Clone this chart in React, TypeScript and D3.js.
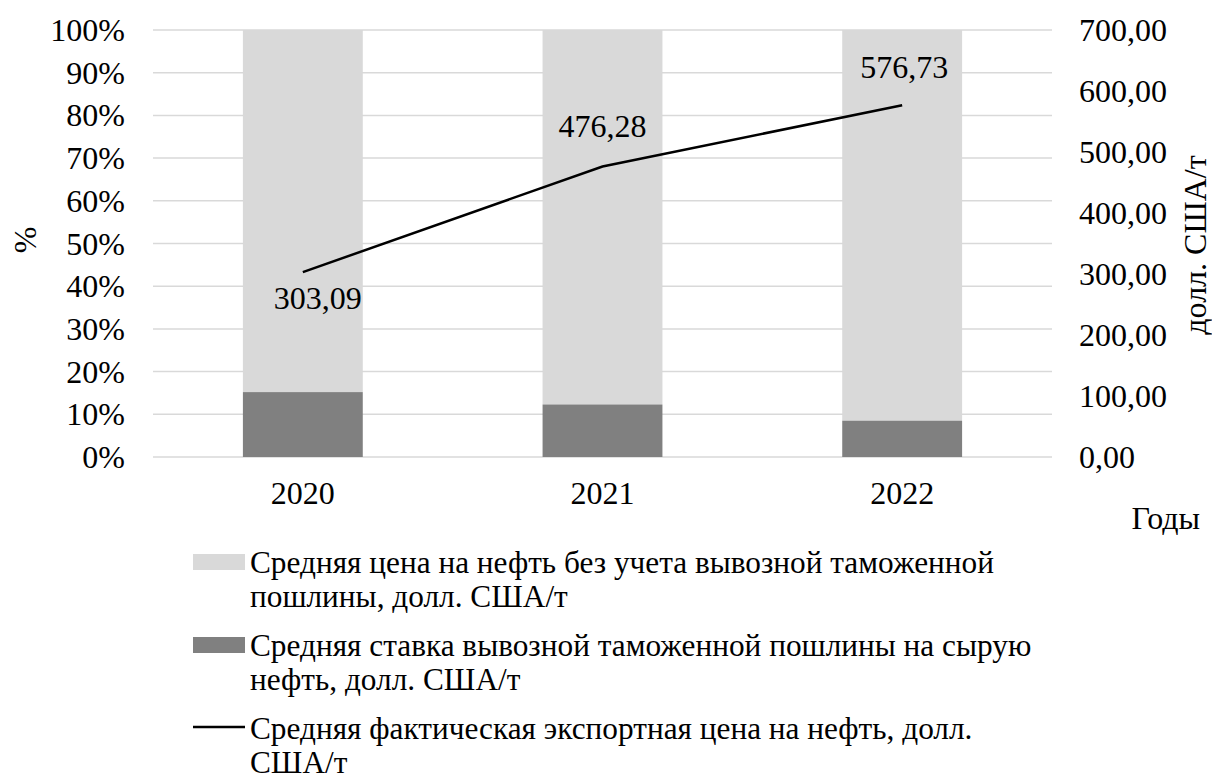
import React from "react";
import * as d3 from "d3";

const years = ["2020", "2021", "2022"];
// share of export duty in price, %
const dutyShare = [15.2, 12.3, 8.5];
// share of price without duty, %
const priceShare = [84.8, 87.7, 91.5];
// average actual export price, USD/t
const exportPrice = [303.09, 476.28, 576.73];
const exportPriceLabels = ["303,09", "476,28", "576,73"];
const leftTicks = [0, 10, 20, 30, 40, 50, 60, 70, 80, 90, 100];
const rightTicks = [0, 100, 200, 300, 400, 500, 600, 700];
const legendItems = [
  { lines: ["Средняя цена на нефть без учета вывозной таможенной", "пошлины, долл. США/т"], kind: "light" },
  { lines: ["Средняя ставка вывозной таможенной пошлины на сырую", "нефть, долл. США/т"], kind: "dark" },
  { lines: ["Средняя фактическая экспортная цена на нефть, долл.", "США/т"], kind: "line" },
];

const W = 1212, H = 783;
const FONT = '"Liberation Serif", "Times New Roman", Times, serif';
const FS = 32;
const LIGHT = "#d9d9d9";
const DARK = "#808080";
const GRID = "#d9d9d9";
const ts = { fontFamily: FONT, fontSize: FS, fill: "#000" };
const lts = { fontFamily: FONT, fontSize: 31.3, fill: "#000" };

export default function App() {
  const x = d3.scaleBand<string>().domain(years).range([153, 1052]).paddingInner(0.6).paddingOuter(0.3);
  const yL = d3.scaleLinear().domain([0, 100]).range([457, 30]);
  const yR = d3.scaleLinear().domain([0, 700]).range([457, 30]);
  const line = d3.line<number>()
    .x((_, i) => (x(years[i]) as number) + x.bandwidth() / 2)
    .y((d) => yR(d));
  const fmtR = (v: number) => v.toFixed(2).replace(".", ",");
  const labelOffsets = [{ dx: 15, dy: 26 }, { dx: 0, dy: -40 }, { dx: 2, dy: -38 }];

  return (
    <svg width={W} height={H} style={{ position: "absolute", left: 0, top: 0, background: "#fff" }}>
      {leftTicks.map((t) => (
        <line key={"g" + t} x1={153} x2={1052} y1={yL(t)} y2={yL(t)} stroke={GRID} strokeWidth={1.5} />
      ))}
      {years.map((yr, i) => (
        <g key={yr}>
          <rect x={x(yr)} width={x.bandwidth()} y={yL(dutyShare[i] + priceShare[i])} height={yL(dutyShare[i]) - yL(dutyShare[i] + priceShare[i])} fill={LIGHT} />
          <rect x={x(yr)} width={x.bandwidth()} y={yL(dutyShare[i])} height={yL(0) - yL(dutyShare[i])} fill={DARK} />
        </g>
      ))}
      <path d={line(exportPrice) || ""} fill="none" stroke="#000" strokeWidth={2.5} />
      {exportPrice.map((v, i) => (
        <text key={"dl" + i} style={ts} x={(x(years[i]) as number) + x.bandwidth() / 2 + labelOffsets[i].dx} y={yR(v) + labelOffsets[i].dy} textAnchor="middle" dominantBaseline="central">{exportPriceLabels[i]}</text>
      ))}
      {leftTicks.map((t) => (
        <text key={"l" + t} style={ts} x={125} y={yL(t)} textAnchor="end" dominantBaseline="central">{t + "%"}</text>
      ))}
      {rightTicks.map((t) => (
        <text key={"r" + t} style={ts} x={1079} y={yR(t)} textAnchor="start" dominantBaseline="central">{fmtR(t)}</text>
      ))}
      {years.map((yr) => (
        <text key={"x" + yr} style={ts} x={(x(yr) as number) + x.bandwidth() / 2} y={493} textAnchor="middle" dominantBaseline="central">{yr}</text>
      ))}
      <text style={ts} x={1200} y={518} textAnchor="end" dominantBaseline="central">Годы</text>
      <text style={ts} transform="translate(25,240) rotate(-90)" textAnchor="middle" dominantBaseline="central">%</text>
      <text style={ts} transform="translate(1195,245) rotate(-90)" textAnchor="middle" dominantBaseline="central">долл. США/т</text>
      {legendItems.map((it, i) => {
        const base = 573 + i * 83;
        return (
          <g key={"lg" + i}>
            {it.kind === "line" ? (
              <line x1={193} x2={245} y1={base - 12} y2={base - 12} stroke="#000" strokeWidth={2.5} />
            ) : (
              <rect x={193} y={base - 19} width={52} height={16} fill={it.kind === "light" ? LIGHT : DARK} />
            )}
            {it.lines.map((ln, j) => (
              <text key={j} style={lts} x={250} y={base + j * 34}>{ln}</text>
            ))}
          </g>
        );
      })}
    </svg>
  );
}
